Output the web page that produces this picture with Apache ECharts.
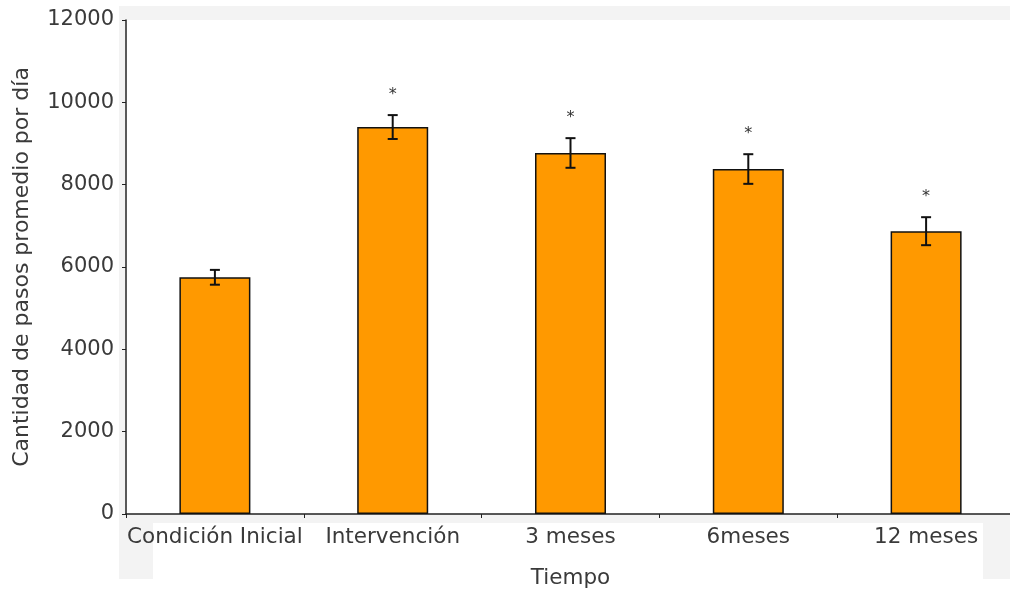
<!DOCTYPE html>
<html>
<head>
<meta charset="utf-8">
<script src="https://cdn.jsdelivr.net/npm/echarts@6/dist/echarts.min.js"></script>
<style>
  html, body { margin: 0; padding: 0; background: #fff; }
  #chart { width: 1010px; height: 590px; }
</style>
</head>
<body>
<div id="chart"></div>
<script>
var categories = ['Condición Inicial', 'Intervención', '3 meses', '6meses', '12 meses'];
var pasos = [5750, 9400, 8770, 8380, 6870];
var errores = [180, 290, 360, 360, 340];
var marcas = ['', '*', '*', '*', '*'];
var yTicks = [0, 2000, 4000, 6000, 8000, 10000, 12000];

var chart = echarts.init(document.getElementById('chart'));

var errData = [];
for (var i = 0; i < pasos.length; i++) {
  errData.push([i, pasos[i] - errores[i], pasos[i] + errores[i], marcas[i]]);
}

var txt = '#3a3a3a';
var font = 'DejaVu Sans';

var option = {
  animation: false,
  textStyle: { fontFamily: font },
  graphic: [
    { type: 'rect', z: -10, shape: { x: 119, y: 6, width: 895, height: 573 }, style: { fill: '#f3f3f3' } },
    { type: 'rect', z: -9, shape: { x: 125, y: 20, width: 890, height: 494 }, style: { fill: '#fff' } },
    { type: 'rect', z: -9, shape: { x: 153, y: 523, width: 830, height: 56 }, style: { fill: '#fff' } }
  ],
  grid: { left: 126, right: -5, top: 20, bottom: 76, containLabel: false, outerBoundsMode: 'none' },
  xAxis: {
    type: 'category',
    data: categories,
    name: 'Tiempo',
    nameLocation: 'middle',
    nameGap: 53,
    nameTextStyle: { color: txt, fontSize: 21.5, fontFamily: font },
    axisLine: { lineStyle: { color: '#222', width: 1.5 } },
    axisTick: { show: true, length: 4, lineStyle: { color: '#222' } },
    axisLabel: { color: txt, fontSize: 21.5, margin: 12, fontFamily: font, interval: 0 }
  },
  yAxis: {
    type: 'value',
    min: yTicks[0],
    max: yTicks[yTicks.length - 1],
    interval: yTicks[1] - yTicks[0],
    name: 'Cantidad de pasos promedio por día',
    nameLocation: 'middle',
    nameGap: 93,
    nameTextStyle: { color: txt, fontSize: 22, fontFamily: font },
    axisLine: { show: true, lineStyle: { color: '#222', width: 1.5 } },
    axisTick: { show: true, length: 4, lineStyle: { color: '#222' } },
    axisLabel: {
      color: txt, fontSize: 21, margin: 12, fontFamily: font,
      formatter: function (v) { return String(v); }
    },
    splitLine: { show: false }
  },
  series: [
    {
      type: 'bar',
      data: pasos,
      barWidth: 71,
      itemStyle: { color: '#ff9900', borderColor: '#111', borderWidth: 1.5 }
    },
    {
      type: 'custom',
      data: errData,
      z: 5,
      renderItem: function (params, api) {
        var x = api.value(0);
        var lo = api.coord([x, api.value(1)]);
        var hi = api.coord([x, api.value(2)]);
        var cap = 5;
        var st = { stroke: '#111', lineWidth: 2 };
        var children = [
          { type: 'line', shape: { x1: hi[0], y1: hi[1], x2: lo[0], y2: lo[1] }, style: st },
          { type: 'line', shape: { x1: hi[0] - cap, y1: hi[1], x2: hi[0] + cap, y2: hi[1] }, style: st },
          { type: 'line', shape: { x1: lo[0] - cap, y1: lo[1], x2: lo[0] + cap, y2: lo[1] }, style: st }
        ];
        var mark = api.value(3);
        if (mark) {
          children.push({
            type: 'text',
            style: {
              text: mark, x: hi[0], y: hi[1] - 20,
              fill: '#333', font: '16px DejaVu Sans',
              align: 'center', verticalAlign: 'middle'
            }
          });
        }
        return { type: 'group', children: children };
      }
    }
  ]
};

chart.setOption(option);
</script>
</body>
</html>
